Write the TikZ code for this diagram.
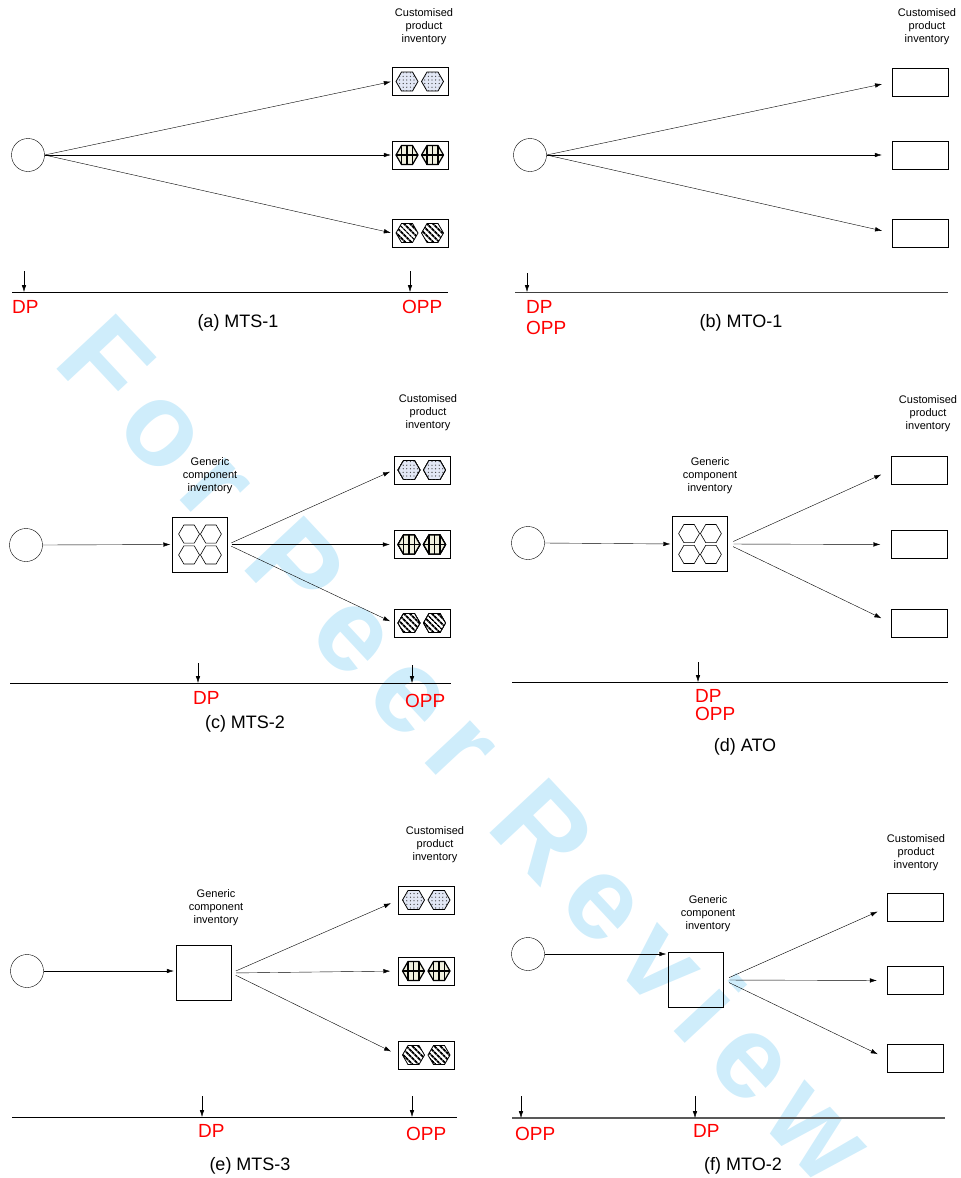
\documentclass[tikz,border=0pt]{standalone}
\usepackage{fontspec}
\setmainfont{Liberation Sans}
\newfontfamily\wmfont[LetterSpace=15]{Liberation Sans}
\usetikzlibrary{arrows.meta,patterns.meta}

\definecolor{dpred}{RGB}{255,0,0}
\definecolor{wmblue}{RGB}{207,237,251}
\definecolor{dotfill}{RGB}{226,231,245}
\definecolor{gridfill}{RGB}{240,240,222}

\tikzset{
  x=1pt, y=-1pt,
  every node/.style={inner sep=0pt},
  >={Latex[length=7pt,width=4.5pt]},
  origin/.style={draw,circle,minimum size=33pt},
  prodbox/.style={draw,minimum width=56pt,minimum height=28pt},
  genbox/.style={draw,minimum size=55pt},
  flow/.style={->},
  timeline/.style={line width=0.9pt},
  greyline/.style={line width=1.3pt,black!65},
  marker/.style={->},
  pointlbl/.style={text=dpred,font=\fontsize{19}{19}\selectfont,anchor=base west},
  caption/.style={font=\fontsize{18}{18}\selectfont,anchor=base},
  invlbl/.style={align=center,font=\fontsize{11}{13}\selectfont},
  dothex/.style={draw,line width=0.8pt,fill=dotfill,
    postaction={pattern={Dots[distance=3.6pt,radius=0.65pt]},pattern color=black!75}},
  stripehex/.style={draw,line width=0.8pt,fill=white,
    postaction={pattern={Lines[angle=-45,distance=4pt,line width=2pt]}}},
  gridhex/.style={draw,line width=1.2pt,fill=gridfill},
  plainhex/.style={draw,line width=0.6pt,scale=0.95},
}

% hexagon: style, node, dx, dy
\newcommand{\hexat}[4]{%
  \path[#1,shift={(#2)}] (#3+11,#4) -- (#3+5.5,#4+9.5) -- (#3-5.5,#4+9.5)
    -- (#3-11,#4) -- (#3-5.5,#4-9.5) -- (#3+5.5,#4-9.5) -- cycle;}
% hexagon with a grid inside: node, dx
\newcommand{\gridhexat}[2]{%
  \hexat{gridhex}{#1}{#2}{0}
  \draw[shift={(#1)},line width=1.1pt] (#2-11,0) -- (#2+11,0)
    (#2,-9.5) -- (#2,9.5) (#2-5.5,-9.5) -- (#2-5.5,9.5) (#2+5.5,-9.5) -- (#2+5.5,9.5);}
% the three product boxes of a panel
\newcommand{\products}[1]{%
  \foreach \dx in {-13,12.5}
  {
    \hexat{dothex}{#11}{\dx}{0}
    \gridhexat{#12}{\dx}
    \hexat{stripehex}{#13}{\dx}{0}
  }}

\begin{document}
\begin{tikzpicture}
\useasboundingbox (0,0) rectangle (961,1178);

% The watermark
\node[text=wmblue,font=\wmfont\bfseries\fontsize{118}{118}\selectfont,rotate=-47] (wm) at (468,748) {For Peer Review};

% (a) MTS-1
\node[origin] (ca) at (28,155) {};
\node[prodbox] (a1) at (420,81.5) {};
\node[prodbox] (a2) at (420,155) {};
\node[prodbox] (a3) at (420,233) {};
\node[invlbl] (la) at (424,27) {Customised\\product\\inventory};
\foreach \b in {a1,a2,a3}
  \draw[flow,shorten >=1pt] (ca.east) -- (\b.west);
\products{a}
\draw[timeline] (12,292) -- (448,292);
\draw[marker] (24,271) -- (24,292);
\draw[marker] (410,271) -- (410,292);
\node[pointlbl] (dpa) at (12,313) {DP};
\node[pointlbl] (oppa) at (402,313) {OPP};
\node[caption] (capa) at (238,327) {(a) MTS-1};

% (b) MTO-1
\node[origin] (cb) at (530,155) {};
\node[prodbox] (b1) at (920,82) {};
\node[prodbox] (b2) at (920,155) {};
\node[prodbox] (b3) at (920,233) {};
\node[invlbl] (lb) at (927,27) {Customised\\product\\inventory};
\foreach \b in {b1,b2,b3}
  \draw[flow,shorten >=10pt] (cb.east) -- (\b.west);
\draw[timeline,black!75] (515,292) -- (948,292);
\draw[marker] (527,273) -- (527,292);
\node[pointlbl] (dpb) at (526,313) {DP};
\node[pointlbl] (oppb) at (526,334) {OPP};
\node[caption] (capb) at (741,327) {(b) MTO-1};

% (c) MTS-2
\node[origin] (cc) at (26,545) {};
\node[genbox] (gc) at (200,544.5) {};
\node[invlbl] (gcl) at (210,476) {Generic\\component\\inventory};
\node[prodbox] (c1) at (422,470) {};
\node[prodbox] (c2) at (422,544.5) {};
\node[prodbox] (c3) at (422,623) {};
\node[invlbl] (lc) at (428,413) {Customised\\product\\inventory};
\draw[flow,shorten >=2pt] (cc.east) -- (gc.west);
\foreach \b in {c1,c2,c3}
  \draw[flow,shorten <=4pt,shorten >=4pt] (gc.east) -- (\b.west);
\foreach \dx in {-11.5,11.5}
  \foreach \dy in {-11,11}
    \hexat{plainhex}{gc}{\dx}{\dy}
\products{c}
\draw[timeline] (10,683) -- (451,683);
\draw[marker] (198,663) -- (198,683);
\draw[marker] (412,665) -- (412,683);
\node[pointlbl] (dpc) at (193,704) {DP};
\node[pointlbl] (oppc) at (405,707) {OPP};
\node[caption] (capc) at (245,728) {(c) MTS-2};

% (d) ATO
\node[origin] (cd) at (528,543) {};
\node[genbox] (gd) at (700,544) {};
\node[invlbl] (gdl) at (710,476) {Generic\\component\\inventory};
\node[prodbox] (d1) at (919.5,470) {};
\node[prodbox] (d2) at (919.5,544.5) {};
\node[prodbox] (d3) at (919.5,623) {};
\node[invlbl] (ld) at (928,414) {Customised\\product\\inventory};
\draw[flow,shorten >=2pt] (cd.east) -- (gd.west);
\foreach \b in {d1,d2,d3}
  \draw[flow,shorten <=6pt,shorten >=11pt] (gd.east) -- (\b.west);
\foreach \dx in {-11.5,11.5}
  \foreach \dy in {-11,11}
    \hexat{plainhex}{gd}{\dx}{\dy}
\draw[timeline] (512,682) -- (948,682);
\draw[marker] (698,662) -- (698,682);
\node[pointlbl] (dpd) at (695,702) {DP};
\node[pointlbl] (oppd) at (695,720) {OPP};
\node[caption] (capd) at (745,751) {(d) ATO};

% (e) MTS-3
\node[origin] (ce) at (27,971) {};
\node[genbox] (ge) at (203.5,973) {};
\node[invlbl] (gel) at (216,908) {Generic\\component\\inventory};
\node[prodbox] (e1) at (426.5,900) {};
\node[prodbox] (e2) at (426.5,971) {};
\node[prodbox] (e3) at (426.5,1055) {};
\node[invlbl] (le) at (435,845) {Customised\\product\\inventory};
\draw[flow,shorten >=2pt] (ce.east) -- (ce.east -| ge.west);
\foreach \b in {e1,e2,e3}
  \draw[flow,shorten <=5pt,shorten >=8pt] (ge.east) -- (\b.west);
\products{e}
\draw[timeline] (12,1117) -- (457,1117);
\draw[marker] (202,1096) -- (202,1117);
\draw[marker] (412,1096) -- (412,1117);
\node[pointlbl] (dpe) at (198,1137) {DP};
\node[pointlbl] (oppe) at (406,1140) {OPP};
\node[caption] (cape) at (250,1170) {(e) MTS-3};

% (f) MTO-2
\node[origin] (cf) at (528,954) {};
\node[genbox] (gf) at (696,980) {};
\node[invlbl] (gfl) at (708,914) {Generic\\component\\inventory};
\node[prodbox] (f1) at (915,907.5) {};
\node[prodbox] (f2) at (915,980.5) {};
\node[prodbox] (f3) at (915,1058.5) {};
\node[invlbl] (lf) at (916,853) {Customised\\product\\inventory};
\draw[flow,shorten >=2pt] (cf.east) -- (cf.east -| gf.west);
\foreach \b in {f1,f2,f3}
  \draw[flow,shorten <=6pt,shorten >=10pt] (gf.east) -- (\b.west);
\draw[greyline] (512,1118) -- (945,1118);
\draw[marker] (521,1096) -- (521,1118);
\draw[marker] (695,1096) -- (695,1118);
\node[pointlbl] (oppf) at (515,1140) {OPP};
\node[pointlbl] (dpf) at (693,1137) {DP};
\node[caption] (capf) at (743,1170) {(f) MTO-2};

\end{tikzpicture}
\end{document}
